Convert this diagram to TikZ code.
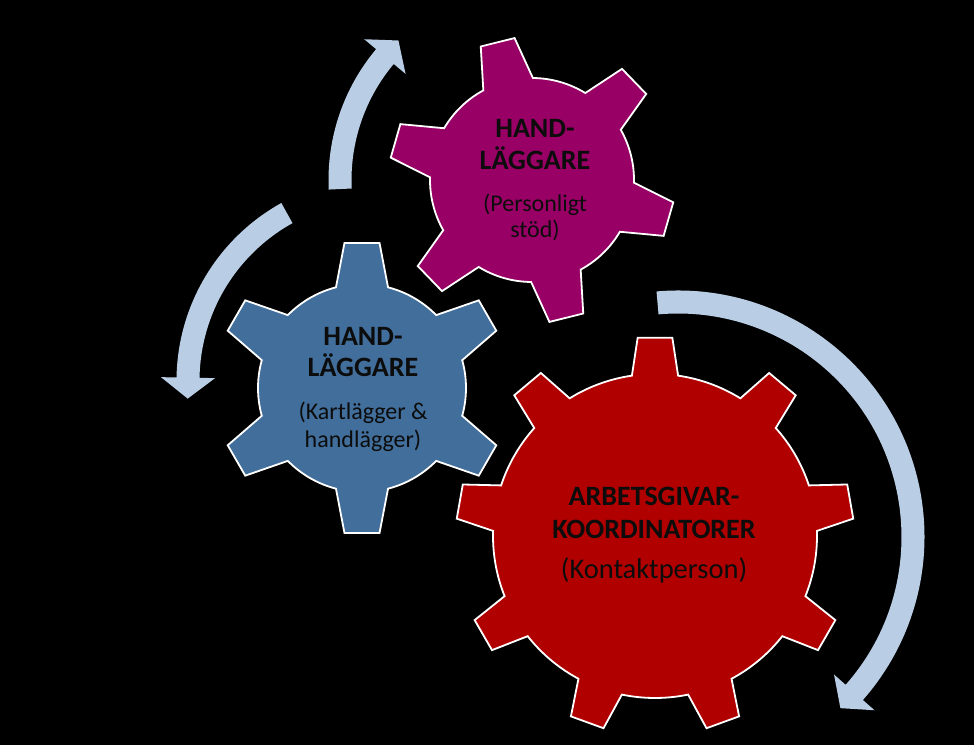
\documentclass[tikz,border=0pt]{standalone}
\usepackage{fontspec}
\setmainfont{Carlito}
\definecolor{gblue}{RGB}{65,110,155}
\definecolor{gpurple}{RGB}{153,0,102}
\definecolor{gred}{RGB}{176,0,0}
\definecolor{arrowblue}{RGB}{185,205,229}
\definecolor{txt}{RGB}{12,12,12}
\tikzset{
  gearbody/.style={draw=white, line width=1.8pt, line join=miter},
  arrowbody/.style={fill=arrowblue},
  headtxt/.style={inner sep=0pt, anchor=base, text=txt, font=\fontsize{28}{32}\selectfont\bfseries},
  subtxt/.style={inner sep=0pt, anchor=base, text=txt, font=\fontsize{24}{27}\selectfont},
  bigsubtxt/.style={inner sep=0pt, anchor=base, text=txt, font=\fontsize{28.5}{32}\selectfont},
}
% #1 name, #2 centre x,y, #3 teeth, #4 rotation, #5 outer radius, #6 body radius,
% #7 tip half-angle, #8 base half-angle, #9 colour
\newcommand\drawgear[9]{%
  \coordinate (#1) at (#2);
  \filldraw[gearbody, fill=#9, shift={(#2)}] ({#4-#8}:#6)
    \foreach \k [evaluate=\k as \t using #4+(\k-1)*360/#3] in {1,...,#3} {
      -- ({\t-#7}:#5) -- ({\t+#7}:#5) -- ({\t+#8}:#6)
      arc[start angle={\t+#8}, end angle={\t+360/#3-#8}, radius=#6]
    } -- cycle;
}
% #1 name, #2 centre x,y, #3 radius, #4 start angle, #5 end angle, #6 direction (+1 ccw, -1 cw)
\newcommand\circarrow[6]{%
  \coordinate (#1) at (#2);
  \fill[arrowbody, shift={(#2)}] (#4:{#3+11.5})
    arc[start angle=#4, end angle=#5, radius={#3+11.5}]
    -- (#5:{#3+27})
    -- ({#5+#6*atan(21/#3)}:{veclen(#3,21)})
    -- (#5:{#3-27})
    -- (#5:{#3-11.5})
    arc[start angle=#5, end angle=#4, radius={#3-11.5}]
    -- cycle;
}
\begin{document}
\begin{tikzpicture}[x=1pt,y=1pt]
\useasboundingbox (0,0) rectangle (974,745);
\fill[black] (0,0) rectangle (974,745);

% arrows
\circarrow{arrA}{532,565}{192}{182.7}{140}{-1}
\circarrow{arrB}{380,364}{192}{119}{179}{1}
\circarrow{arrC}{678,208}{235}{95}{-41.4}{-1}

% gears
\drawgear{gpur}{532,565}{6}{104}{143}{102}{7.0}{14.5}{gpurple}
\drawgear{gblu}{362,357}{6}{90}{146}{104}{6.9}{14.5}{gblue}
\drawgear{gred}{655,209}{9}{90}{199}{162}{5.0}{8.2}{gred}

% texts
\node[headtxt] (p1) at (535,607) {HAND-};
\node[headtxt] (p2) at (535,575) {LÄGGARE};
\node[subtxt]  (p3) at (535,533) {(Personligt};
\node[subtxt]  (p4) at (535,507) {stöd)};

\node[headtxt] (b1) at (363,399) {HAND-};
\node[headtxt] (b2) at (363,368) {LÄGGARE};
\node[subtxt]  (b3) at (363,325) {(Kartlägger \&};
\node[subtxt]  (b4) at (363,298) {handlägger)};

\node[headtxt] (r1) at (654,240) {ARBETSGIVAR-};
\node[headtxt] (r2) at (654,207) {KOORDINATORER};
\node[bigsubtxt] (r3) at (654,167) {(Kontaktperson)};
\end{tikzpicture}
\end{document}
